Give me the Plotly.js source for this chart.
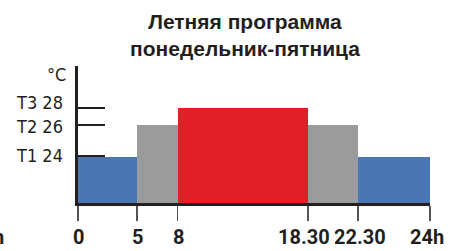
<!DOCTYPE html>
<html><head><meta charset="utf-8">
<script src="https://cdn.plot.ly/plotly-3.0.1.min.js"></script>
<style>html,body{margin:0;padding:0;background:#fff}#c{width:460px;height:251px}</style>
</head><body><div id="c"></div>
<script>
// Segment boundaries on the (schematic) time axis, as drawn
const boundaryPos = [0, 4.75, 8, 18.5, 22.5, 28.3];
const tickLabels = ['0', '5', '8', '18.30', '22.30', '24h'];
// Temperature level of each segment (schematic heights as drawn)
const segLevels = [46, 78, 95, 78, 46];
const segColors = ['#4a76b4', '#9b9a9c', '#e01f26', '#9b9a9c', '#4a76b4'];
// Temperature levels and labels
const tempLevels = [47, 78, 95];
const tempLabels = ['T1 24', 'T2 26', 'T3 28'];
const labelLevels = [47.5, 77, 101];
// Horizontal nudge (px) of each time label relative to its tick
const labelShift = [0, 0, 1, -4, 2.5, -3];

const xs = [], ws = [];
for (let i = 0; i < segLevels.length; i++) {
  xs.push((boundaryPos[i] + boundaryPos[i + 1]) / 2);
  ws.push(boundaryPos[i + 1] - boundaryPos[i]);
}
const dark = '#231f20';
const narrow = '"Liberation Sans Narrow", "DejaVu Sans Condensed", "Liberation Sans", sans-serif';
const lblFont = {family: narrow, size: 18, color: dark};
const tickFont = {family: 'Roboto, "DejaVu Sans Condensed", sans-serif', size: 20, color: dark, weight: 700};
const labelY = -(237 - 203) / 137;

const annotations = tempLabels.map((t, i) => ({
  text: t, xref: 'paper', x: (65 - 78) / 352, xanchor: 'right',
  yref: 'y', y: labelLevels[i], yanchor: 'middle', showarrow: false, font: lblFont
}));
annotations.push({text: '°C', xref: 'paper', x: (68 - 78) / 352, xanchor: 'right',
  yref: 'y', y: 129, yanchor: 'middle', showarrow: false, font: lblFont});
tickLabels.forEach((t, i) => annotations.push({
  text: t, xref: 'x', x: boundaryPos[i], xshift: labelShift[i], xanchor: 'center',
  yref: 'paper', y: labelY, yanchor: 'middle', showarrow: false, font: tickFont
}));
annotations.push({text: '24h', xref: 'paper', x: (6 - 78) / 352, xanchor: 'right',
  yref: 'paper', y: labelY, yanchor: 'middle', showarrow: false, font: tickFont});
annotations.push({text: '<b>Летняя программа<br>понедельник-пятница</b>',
  xref: 'paper', x: (245 - 78) / 352, xanchor: 'center',
  yref: 'paper', y: 1 + (66 - 35.5) / 137, yanchor: 'middle', showarrow: false,
  font: {family: '"Liberation Sans", Arial, sans-serif', size: 21, color: dark}});

Plotly.newPlot('c', [{
  type: 'bar', x: xs, y: segLevels, width: ws,
  marker: {color: segColors, line: {width: 0}},
  hoverinfo: 'skip'
}], {
  width: 460, height: 251,
  margin: {l: 78, r: 30, t: 66, b: 48},
  paper_bgcolor: '#fff', plot_bgcolor: '#fff',
  showlegend: false,
  xaxis: {
    range: [0, boundaryPos[boundaryPos.length - 1]],
    showgrid: false, zeroline: false,
    showline: true, linewidth: 3, linecolor: dark,
    tickmode: 'array', tickvals: boundaryPos, showticklabels: false,
    ticks: 'outside', ticklen: 15, tickwidth: 1.5, tickcolor: '#555',
    fixedrange: true
  },
  yaxis: {
    range: [0, 137],
    showgrid: false, zeroline: false,
    showline: true, linewidth: 3, linecolor: dark,
    tickmode: 'array', tickvals: tempLevels, showticklabels: false,
    ticks: 'inside', ticklen: 27, tickwidth: 1.2, tickcolor: dark,
    fixedrange: true
  },
  bargap: 0,
  annotations: annotations
}, {displayModeBar: false, staticPlot: true});
</script></body></html>
